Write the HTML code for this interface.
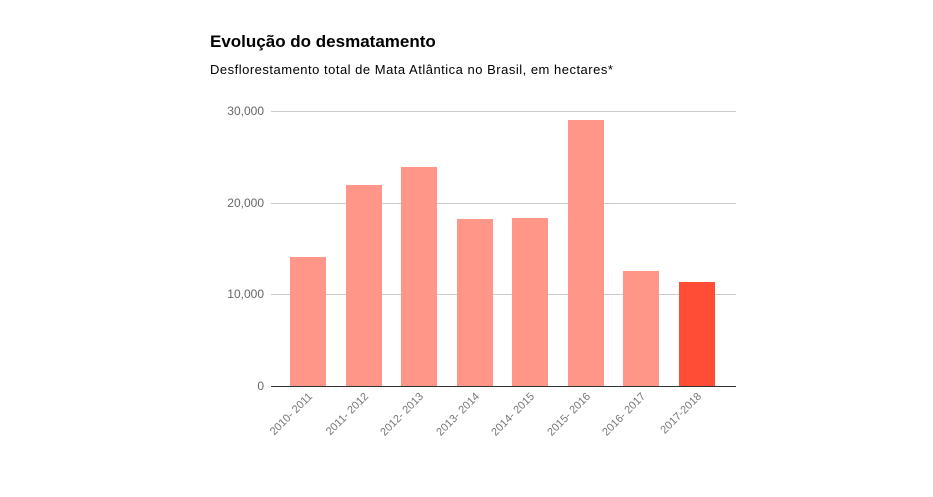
<!DOCTYPE html>
<html><head><style>body{margin:0;background:#fff;}</style></head><body>
<svg width="933" height="492" xmlns="http://www.w3.org/2000/svg" font-family="Liberation Sans, sans-serif">
<rect width="933" height="492" fill="#fff"/>
<text x="210" y="47" font-size="17" font-weight="bold" fill="#000">Evolução do desmatamento</text>
<text x="210" y="74" font-size="13" letter-spacing="0.5" fill="#000">Desflorestamento total de Mata Atlântica no Brasil, em hectares*</text>
<g stroke="#ccc" stroke-width="1">
<line x1="271" x2="736" y1="111.5" y2="111.5"/>
<line x1="271" x2="736" y1="203.5" y2="203.5"/>
<line x1="271" x2="736" y1="294.5" y2="294.5"/>
</g>
<g font-size="12" fill="#666" text-anchor="end">
<text x="264" y="115">30,000</text>
<text x="264" y="207">20,000</text>
<text x="264" y="298">10,000</text>
<text x="264" y="390">0</text>
</g>
<g fill="#ff9688">
<rect x="290" y="257" width="36" height="129"/>
<rect x="346" y="185" width="36" height="201"/>
<rect x="401" y="167" width="36" height="219"/>
<rect x="457" y="219" width="36" height="167"/>
<rect x="512" y="218" width="36" height="168"/>
<rect x="568" y="120" width="36" height="266"/>
<rect x="623" y="271" width="36" height="115"/>
</g>
<rect x="679" y="282" width="36" height="104" fill="#ff4d36"/>
<line x1="271" x2="736" y1="386.5" y2="386.5" stroke="#333" stroke-width="1"/>
<g font-size="11" fill="#777" text-anchor="end">
<text transform="translate(313,397) rotate(-45)">2010- 2011</text>
<text transform="translate(369,397) rotate(-45)">2011- 2012</text>
<text transform="translate(424,397) rotate(-45)">2012- 2013</text>
<text transform="translate(480,397) rotate(-45)">2013- 2014</text>
<text transform="translate(535,397) rotate(-45)">2014- 2015</text>
<text transform="translate(591,397) rotate(-45)">2015- 2016</text>
<text transform="translate(646,397) rotate(-45)">2016- 2017</text>
<text transform="translate(702,397) rotate(-45)">2017-2018</text>
</g>
</svg>
</body></html>
